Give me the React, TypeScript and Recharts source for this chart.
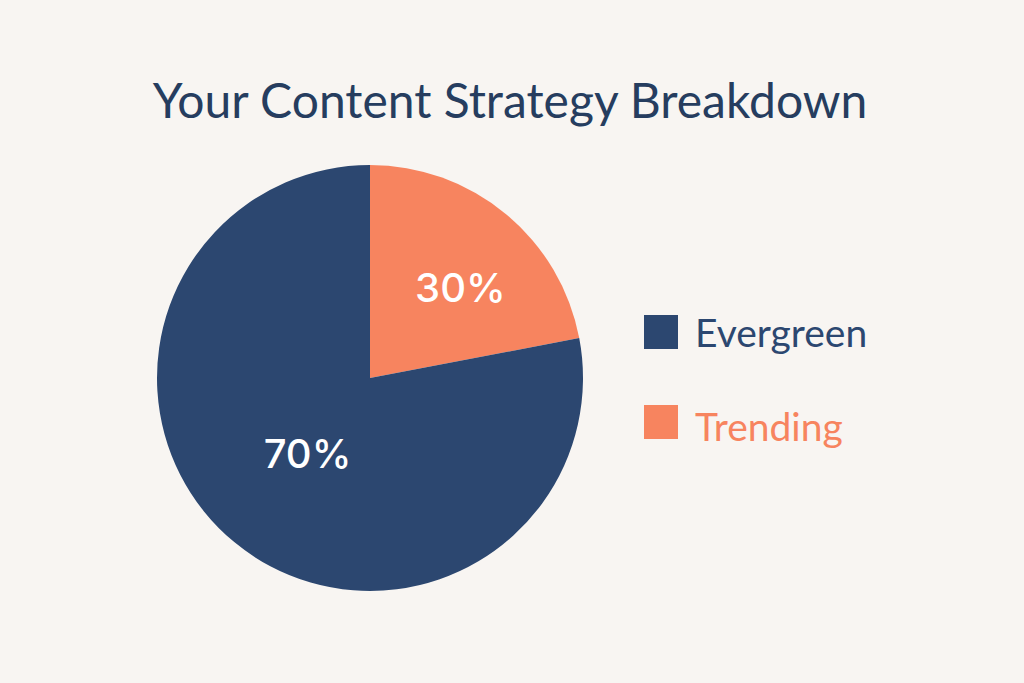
import { PieChart, Pie, Cell } from "recharts";

// slice order runs clockwise from 12 o'clock
const categories = ["Trending", "Evergreen"];
const shares = [22, 78]; // drawn angle shares
const labels = ["30%", "70%"]; // printed labels
const legendOrder = ["Evergreen", "Trending"];

const NAVY = "#2c4770";
const CORAL = "#f7845f";
const TITLE = "#263d5f";
const BG = "#f8f5f2";
const FONT = "Lato, 'Open Sans', sans-serif";

const colorOf: Record<string, string> = { Trending: CORAL, Evergreen: NAVY };
// label placement: fraction of the radius and a small angle nudge (degrees)
const labelRadius: Record<string, number> = { Trending: 0.6, Evergreen: 0.46 };
const labelNudge: Record<string, number> = { Trending: -5.4, Evergreen: 0 };

const data = categories.map((name, i) => ({ name, value: shares[i], label: labels[i] }));

const RADIAN = Math.PI / 180;

function renderLabel(props: any) {
  const { cx, cy, midAngle, outerRadius, payload } = props;
  const name = payload?.name ?? props.name;
  const r = outerRadius * (labelRadius[name] ?? 0.5);
  const a = midAngle + (labelNudge[name] ?? 0);
  const x = cx + r * Math.cos(-a * RADIAN);
  const y = cy + r * Math.sin(-a * RADIAN);
  return (
    <text
      x={x}
      y={y}
      fill="#ffffff"
      textAnchor="middle"
      dominantBaseline="central"
      fontFamily="Inter, sans-serif"
      fontSize={40}
      fontWeight={500}
    >
      {payload?.label ?? props.label}
    </text>
  );
}

export default function App() {
  return (
    <div
      style={{
        position: "absolute",
        left: 0,
        top: 0,
        width: 1024,
        height: 683,
        background: BG,
        fontFamily: FONT,
      }}
    >
      <div
        style={{
          position: "absolute",
          left: 0,
          width: 1020,
          top: 70,
          textAlign: "center",
          fontSize: 48,
          color: TITLE,
          lineHeight: "60px",
        }}
      >
        Your Content Strategy Breakdown
      </div>
      <PieChart
        width={1024}
        height={683}
        margin={{ top: 0, right: 0, bottom: 0, left: 0 }}
        style={{ position: "absolute", left: 0, top: 0 }}
      >
        <Pie
          data={data}
          dataKey="value"
          nameKey="name"
          cx={370}
          cy={378}
          outerRadius={213}
          startAngle={90}
          endAngle={-270}
          stroke="none"
          label={renderLabel}
          labelLine={false}
          isAnimationActive={false}
        >
          {data.map((d) => (
            <Cell key={d.name} fill={colorOf[d.name]} />
          ))}
        </Pie>
      </PieChart>
      {legendOrder.map((name, i) => (
        <div key={name}>
          <div
            style={{
              position: "absolute",
              left: 644,
              top: 315 + i * 90,
              width: 34,
              height: 34,
              background: colorOf[name],
            }}
          />
          <div
            style={{
              position: "absolute",
              left: 695,
              top: 308 + i * 94,
              fontSize: 39,
              lineHeight: "48px",
              color: colorOf[name],
            }}
          >
            {name}
          </div>
        </div>
      ))}
    </div>
  );
}
